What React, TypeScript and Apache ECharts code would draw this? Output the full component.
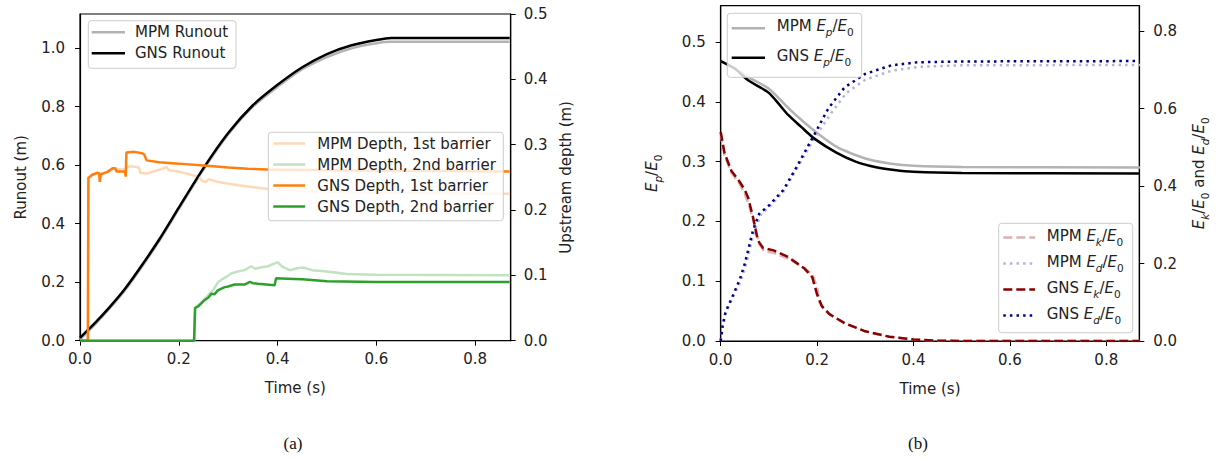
import React, { useEffect, useRef } from "react";
import * as echarts from "echarts";

// ---------- data (time in s) ----------
const timeTicks = ["0.0", "0.2", "0.4", "0.6", "0.8"];

const runoutMPM: [number, number][] = [
  [0, 0.005], [0.03, 0.055], [0.06, 0.11], [0.09, 0.17], [0.12, 0.24], [0.16, 0.34], [0.2, 0.45],
  [0.25, 0.585], [0.3, 0.705], [0.35, 0.8], [0.4, 0.868], [0.45, 0.928], [0.5, 0.97], [0.55, 1.0],
  [0.6, 1.017], [0.63, 1.022], [0.87, 1.022],
];
const runoutGNS: [number, number][] = [
  [0, 0.01], [0.03, 0.06], [0.06, 0.115], [0.09, 0.175], [0.12, 0.245], [0.16, 0.345], [0.2, 0.455],
  [0.25, 0.59], [0.3, 0.71], [0.35, 0.805], [0.4, 0.875], [0.45, 0.935], [0.5, 0.98], [0.55, 1.01],
  [0.6, 1.028], [0.63, 1.035], [0.87, 1.035],
];
const depth1MPM: [number, number][] = [
  [0, 0], [0.016, 0], [0.017, 0.249], [0.025, 0.254], [0.036, 0.257], [0.04, 0.25], [0.047, 0.256],
  [0.061, 0.261], [0.071, 0.264], [0.08, 0.262], [0.09, 0.262], [0.1, 0.267], [0.115, 0.266],
  [0.12, 0.264], [0.122, 0.257], [0.135, 0.256], [0.17, 0.264], [0.175, 0.266], [0.18, 0.261],
  [0.2, 0.259], [0.24, 0.251], [0.248, 0.244], [0.255, 0.243], [0.26, 0.247], [0.28, 0.243],
  [0.32, 0.238], [0.38, 0.232], [0.45, 0.229], [0.55, 0.227], [0.7, 0.226], [0.87, 0.225],
];
const depth1GNS: [number, number][] = [
  [0, 0], [0.016, 0], [0.017, 0.249], [0.025, 0.254], [0.036, 0.257], [0.039, 0.256], [0.04, 0.243],
  [0.042, 0.255], [0.047, 0.256], [0.055, 0.258], [0.061, 0.261], [0.066, 0.264], [0.071, 0.264],
  [0.074, 0.259], [0.085, 0.259], [0.091, 0.259], [0.0925, 0.251], [0.094, 0.288], [0.11, 0.289],
  [0.125, 0.287], [0.13, 0.285], [0.135, 0.276], [0.16, 0.273], [0.2, 0.271], [0.25, 0.268],
  [0.3, 0.265], [0.34, 0.263], [0.38, 0.262], [0.5, 0.261], [0.6, 0.26], [0.7, 0.26], [0.87, 0.259],
];
const depth2MPM: [number, number][] = [
  [0, 0], [0.231, 0], [0.233, 0.05], [0.245, 0.058], [0.26, 0.07], [0.27, 0.078], [0.28, 0.09],
  [0.286, 0.093], [0.297, 0.098], [0.306, 0.103], [0.32, 0.106], [0.333, 0.108], [0.347, 0.114],
  [0.355, 0.11], [0.365, 0.112], [0.381, 0.114], [0.39, 0.117], [0.4, 0.12], [0.41, 0.113],
  [0.425, 0.108], [0.44, 0.111], [0.452, 0.112], [0.47, 0.108], [0.5, 0.106], [0.54, 0.102],
  [0.6, 0.101], [0.87, 0.1],
];
const depth2GNS: [number, number][] = [
  [0, 0], [0.231, 0], [0.233, 0.05], [0.24, 0.053], [0.252, 0.062], [0.26, 0.066], [0.266, 0.072],
  [0.272, 0.071], [0.279, 0.077], [0.293, 0.082], [0.3, 0.083], [0.313, 0.086], [0.333, 0.086],
  [0.344, 0.09], [0.35, 0.088], [0.36, 0.087], [0.394, 0.085], [0.397, 0.0955], [0.42, 0.095],
  [0.45, 0.094], [0.5, 0.091], [0.6, 0.09], [0.87, 0.09],
];

const epMPM: [number, number][] = [
  [0, 0.468], [0.03, 0.456], [0.06, 0.44], [0.1, 0.422], [0.14, 0.39], [0.17, 0.368], [0.2, 0.348],
  [0.24, 0.325], [0.27, 0.314], [0.31, 0.303], [0.35, 0.297], [0.4, 0.293], [0.5, 0.291], [0.87, 0.29],
];
const epGNS: [number, number][] = [
  [0, 0.468], [0.03, 0.455], [0.057, 0.436], [0.08, 0.425], [0.1, 0.415], [0.12, 0.397], [0.14, 0.378],
  [0.167, 0.358], [0.195, 0.338], [0.24, 0.315], [0.28, 0.3], [0.32, 0.291], [0.36, 0.286],
  [0.4, 0.283], [0.5, 0.281], [0.87, 0.28],
];
const ekMPM: [number, number][] = [
  [0, 0.535], [0.008, 0.48], [0.022, 0.435], [0.04, 0.405], [0.05, 0.38], [0.06, 0.345], [0.07, 0.3],
  [0.08, 0.25], [0.09, 0.232], [0.11, 0.228], [0.14, 0.213], [0.174, 0.188], [0.19, 0.172],
  [0.2, 0.14], [0.205, 0.1], [0.215, 0.08], [0.23, 0.065], [0.26, 0.044], [0.3, 0.025],
  [0.35, 0.011], [0.4, 0.004], [0.45, 0.001], [0.5, 0], [0.87, 0],
];
const ekGNS: [number, number][] = [
  [0, 0.54], [0.008, 0.485], [0.022, 0.44], [0.04, 0.41], [0.05, 0.39], [0.057, 0.37], [0.067, 0.32],
  [0.077, 0.26], [0.088, 0.24], [0.11, 0.234], [0.14, 0.217], [0.174, 0.187], [0.19, 0.165],
  [0.2, 0.12], [0.21, 0.09], [0.225, 0.07], [0.257, 0.046], [0.3, 0.025], [0.35, 0.011],
  [0.4, 0.004], [0.45, 0.001], [0.5, 0], [0.87, 0],
];
const edMPM: [number, number][] = [
  [0, 0], [0.004, 0.035], [0.01, 0.07], [0.024, 0.11], [0.04, 0.15], [0.05, 0.185], [0.06, 0.235],
  [0.07, 0.285], [0.085, 0.33], [0.1, 0.345], [0.13, 0.385], [0.16, 0.45], [0.2, 0.535], [0.23, 0.59],
  [0.26, 0.64], [0.3, 0.675], [0.354, 0.698], [0.41, 0.708], [0.5, 0.712], [0.87, 0.713],
];
const edGNS: [number, number][] = [
  [0, 0], [0.004, 0.04], [0.01, 0.075], [0.024, 0.114], [0.04, 0.16], [0.05, 0.2], [0.058, 0.24],
  [0.067, 0.286], [0.08, 0.329], [0.1, 0.35], [0.13, 0.39], [0.16, 0.455], [0.195, 0.535],
  [0.223, 0.6], [0.257, 0.655], [0.3, 0.69], [0.354, 0.712], [0.41, 0.72], [0.5, 0.722], [0.87, 0.723],
];

// ---------- styling ----------
const FONT = "DejaVu Sans";
const TXT = "#222222";
const FS = 15;
const C = {
  mpmGray: "#b3b3b3",
  black: "#000000",
  orange: "#ff7f0e",
  orangeL: "#ffd9b7",
  green: "#2ca02c",
  greenL: "#c0e3c0",
  red: "#8b0000",
  redL: "#dcb3b3",
  blue: "#00008b",
  blueL: "#b3b3dc",
};
const LW = 2.5;
const DASH = [9, 4];
const DOT = [2.5, 4.1];

const rich = {
  n: { fontFamily: FONT, fontSize: FS, color: TXT, fill: TXT, verticalAlign: "top", lineHeight: 19 },
  i: { fontFamily: FONT, fontSize: FS, fontStyle: "italic", color: TXT, fill: TXT, verticalAlign: "top", lineHeight: 19 },
  s: { fontFamily: FONT, fontSize: 10.5, fontStyle: "italic", color: TXT, fill: TXT, verticalAlign: "bottom", lineHeight: 19 },
  z: { fontFamily: FONT, fontSize: 10.5, color: TXT, fill: TXT, verticalAlign: "bottom", lineHeight: 19 },
};
const frac = (sub: string) => `{i|E}{s|${sub}}{n|/}{i|E}{z|0}`;

function xAxis(gridIndex: number, max: number) {
  return {
    type: "value", gridIndex, min: 0, max, interval: 0.2,
    name: "Time (s)", nameLocation: "middle", nameGap: 40,
    nameTextStyle: { fontFamily: FONT, fontSize: FS, color: TXT },
    axisLine: { onZero: false, lineStyle: { color: "#000", width: 1.2 } },
    axisTick: { length: 5, lineStyle: { color: "#000", width: 1 } },
    axisLabel: {
      fontFamily: FONT, fontSize: FS, color: TXT, margin: 11, showMaxLabel: false,
      formatter: (v: number) => timeTicks[Math.round(v / 0.2)] ?? v.toFixed(1),
    },
    splitLine: { show: false },
  };
}
function yAxis(gridIndex: number, position: string, max: number, interval: number, name: any, nameGap: number, showMax: boolean, margin: number) {
  return {
    type: "value", gridIndex, position, min: 0, max, interval,
    name, nameLocation: "middle", nameGap, nameRotate: 90,
    nameTextStyle: { fontFamily: FONT, fontSize: FS, color: TXT, rich },
    axisLine: { show: true, onZero: false, lineStyle: { color: "#000", width: 1.2 } },
    axisTick: { show: true, length: 5, lineStyle: { color: "#000", width: 1 } },
    axisLabel: {
      fontFamily: FONT, fontSize: FS, color: TXT, margin, showMaxLabel: showMax,
      formatter: (v: number) => v.toFixed(1),
    },
    splitLine: { show: false },
  };
}
function line(name: string, data: [number, number][], xi: number, yi: number, color: string, type: any = "solid", z = 2, smooth = false) {
  return {
    type: "line", name, data, xAxisIndex: xi, yAxisIndex: yi, showSymbol: false, symbol: "none",
    silent: true, z, itemStyle: { color },
    smooth: smooth ? 0.25 : false,
    lineStyle: { color, width: LW, type, cap: "butt" },
  };
}

// legend helpers (matplotlib style boxes)
function legendBox(x: number, y: number, w: number, h: number) {
  return {
    type: "rect", shape: { x, y, width: w, height: h, r: 3 }, z: 50,
    style: { fill: "rgba(255,255,255,0.8)", stroke: "#cccccc", lineWidth: 1 },
  };
}
function legendLine(x1: number, x2: number, y: number, color: string, dash?: number[]) {
  return {
    type: "line", shape: { x1, y1: y, x2, y2: y }, z: 51,
    style: { stroke: color, lineWidth: LW, lineDash: dash, lineCap: "butt" },
  };
}
function legendText(x: number, y: number, text: string, isRich = false) {
  return {
    type: "text", x, y, z: 52,
    style: {
      text, fontFamily: FONT, fontSize: FS, fill: TXT, verticalAlign: "middle", align: "left",
      rich: isRich ? rich : undefined,
    },
  };
}

export default function App() {
  const ref = useRef<HTMLDivElement>(null);
  useEffect(() => {
    if (!ref.current) return;
    const chart = echarts.init(ref.current, null, { renderer: "svg" });
    const option: any = {
      animation: false,
      backgroundColor: "#ffffff",
      grid: [
        { left: 80, top: 14, width: 430.7, height: 326.7, show: true, borderColor: "#000", borderWidth: 1.2, backgroundColor: "transparent" },
        { left: 720.7, top: 5.7, width: 418.6, height: 335.3, show: true, borderColor: "#000", borderWidth: 1.2, backgroundColor: "transparent" },
      ],
      xAxis: [xAxis(0, 0.872), xAxis(1, 0.8685)],
      yAxis: [
        yAxis(0, "left", 1.117, 0.2, "Runout (m)", 52, false, 15),
        yAxis(0, "right", 0.5, 0.1, "Upstream depth (m)", 48, true, 13),
        yAxis(1, "left", 0.5607, 0.1, frac("p"), 57, false, 15),
        yAxis(1, "right", 0.866, 0.2, `${frac("k")}{n| and }${frac("d")}`, 52, false, 14),
      ],
      series: [
        line("MPM Runout", runoutMPM, 0, 0, C.mpmGray, "solid", 2, true),
        line("GNS Runout", runoutGNS, 0, 0, C.black, "solid", 3, true),
        line("MPM Depth, 1st barrier", depth1MPM, 0, 1, C.orangeL),
        line("MPM Depth, 2nd barrier", depth2MPM, 0, 1, C.greenL),
        line("GNS Depth, 1st barrier", depth1GNS, 0, 1, C.orange, "solid", 3),
        line("GNS Depth, 2nd barrier", depth2GNS, 0, 1, C.green, "solid", 3),
        line("MPM Ep/E0", epMPM, 1, 2, C.mpmGray, "solid", 2, true),
        line("GNS Ep/E0", epGNS, 1, 2, C.black, "solid", 3, true),
        line("MPM Ek/E0", ekMPM, 1, 3, C.redL, DASH, 2),
        line("MPM Ed/E0", edMPM, 1, 3, C.blueL, DOT, 2),
        line("GNS Ek/E0", ekGNS, 1, 3, C.red, DASH, 3),
        line("GNS Ed/E0", edGNS, 1, 3, C.blue, DOT, 3),
      ],
      graphic: [
        // left legend 1
        legendBox(88.3, 20.7, 147.7, 47.6),
        legendLine(91.7, 125, 32.3, C.mpmGray), legendText(135, 32.3, "MPM Runout"),
        legendLine(91.7, 125, 53.3, C.black), legendText(135, 53.3, "GNS Runout"),
        // left legend 2
        legendBox(268.3, 132.3, 235, 88.4),
        legendLine(273.3, 305, 143.5, C.orangeL), legendText(317.3, 143.5, "MPM Depth, 1st barrier"),
        legendLine(273.3, 305, 164.5, C.greenL), legendText(317.3, 164.5, "MPM Depth, 2nd barrier"),
        legendLine(273.3, 305, 185.5, C.orange), legendText(317.3, 185.5, "GNS Depth, 1st barrier"),
        legendLine(273.3, 305, 206.5, C.green), legendText(317.3, 206.5, "GNS Depth, 2nd barrier"),
        // right legend 1
        legendBox(727.3, 13.3, 134.4, 64),
        legendLine(731.7, 765, 28.3, C.mpmGray), legendText(776.7, 28.3, `{n|MPM }${frac("p")}`, true),
        legendLine(731.7, 765, 57.7, C.black), legendText(776.7, 57.7, `{n|GNS }${frac("p")}`, true),
        // right legend 2
        legendBox(998.7, 223.3, 134, 109.4),
        legendLine(1003.3, 1035, 237.5, C.redL, DASH), legendText(1046.7, 237.5, `{n|MPM }${frac("k")}`, true),
        legendLine(1003.3, 1035, 263.5, C.blueL, DOT), legendText(1046.7, 263.5, `{n|MPM }${frac("d")}`, true),
        legendLine(1003.3, 1035, 289.5, C.red, DASH), legendText(1046.7, 289.5, `{n|GNS }${frac("k")}`, true),
        legendLine(1003.3, 1035, 315.5, C.blue, DOT), legendText(1046.7, 315.5, `{n|GNS }${frac("d")}`, true),
        // captions
        { type: "text", x: 293, y: 443, style: { text: "(a)", fontFamily: "Liberation Serif", fontSize: 17, fill: "#111", align: "center", verticalAlign: "middle" } },
        { type: "text", x: 918, y: 443, style: { text: "(b)", fontFamily: "Liberation Serif", fontSize: 17, fill: "#111", align: "center", verticalAlign: "middle" } },
      ],
    };
    chart.setOption(option);
    return () => chart.dispose();
  }, []);
  return (
    <div
      ref={ref}
      style={{ position: "fixed", left: 0, top: 0, width: 1220, height: 461, background: "#fff" }}
    />
  );
}
